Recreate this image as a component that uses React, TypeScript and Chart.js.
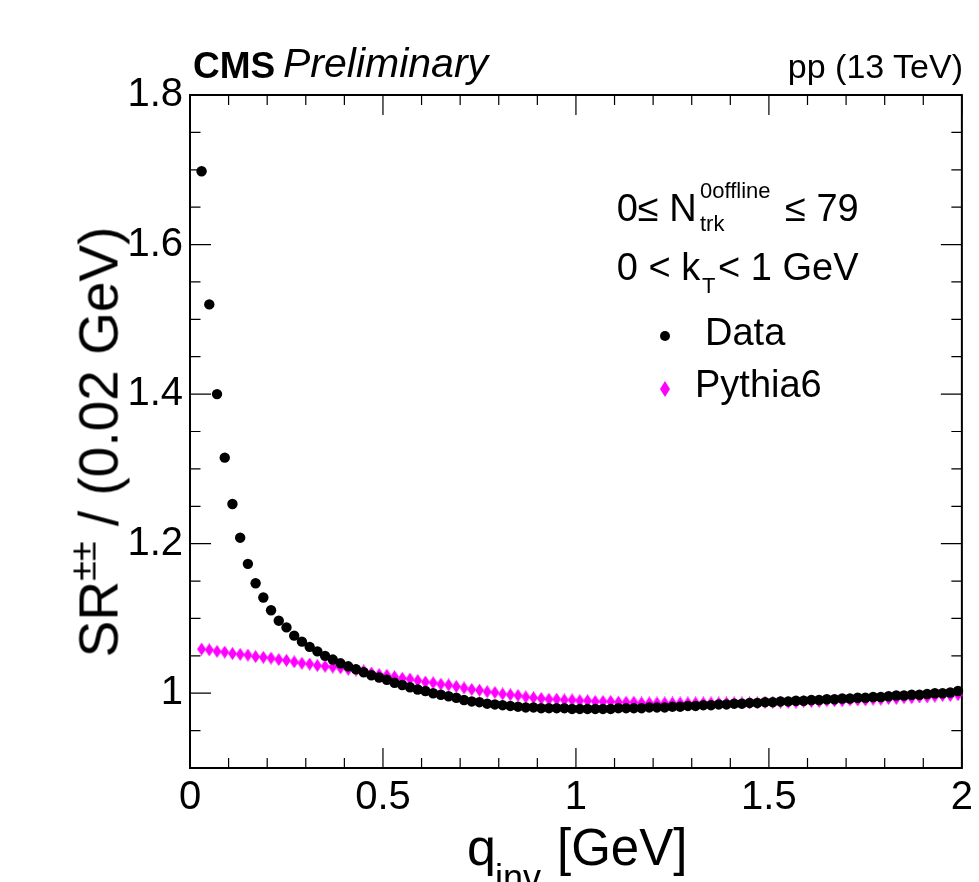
import React, { useEffect, useRef } from "react";
import { Chart, registerables } from "chart.js";

Chart.register(...registerables);

const qBins = [0.03,0.05,0.07,0.09,0.11,0.13,0.15,0.17,0.19,0.21,0.23,0.25,0.27,0.29,0.31,0.33,0.35,0.37,0.39,0.41,0.43,0.45,0.47,0.49,0.51,0.53,0.55,0.57,0.59,0.61,0.63,0.65,0.67,0.69,0.71,0.73,0.75,0.77,0.79,0.81,0.83,0.85,0.87,0.89,0.91,0.93,0.95,0.97,0.99,1.01,1.03,1.05,1.07,1.09,1.11,1.13,1.15,1.17,1.19,1.21,1.23,1.25,1.27,1.29,1.31,1.33,1.35,1.37,1.39,1.41,1.43,1.45,1.47,1.49,1.51,1.53,1.55,1.57,1.59,1.61,1.63,1.65,1.67,1.69,1.71,1.73,1.75,1.77,1.79,1.81,1.83,1.85,1.87,1.89,1.91,1.93,1.95,1.97,1.99];

const dataSR = [
  1.698,1.520,1.400,1.315,1.253,1.208,1.173,1.147,1.128,1.111,
  1.097,1.088,1.077,1.069,1.062,1.056,1.050,1.045,1.040,1.036,
  1.032,1.028,1.024,1.021,1.018,1.014,1.011,1.008,1.005,1.003,
  1.000,0.998,0.996,0.994,0.991,0.989,0.988,0.986,0.985,0.984,
  0.983,0.982,0.981,0.981,0.980,0.980,0.980,0.980,0.979,0.979,
  0.979,0.979,0.979,0.979,0.980,0.980,0.980,0.980,0.981,0.981,
  0.981,0.982,0.982,0.983,0.983,0.984,0.984,0.985,0.985,0.986,
  0.986,0.987,0.987,0.988,0.988,0.989,0.989,0.990,0.990,0.991,
  0.991,0.992,0.992,0.993,0.993,0.994,0.994,0.995,0.995,0.996,
  0.997,0.997,0.998,0.998,0.999,1.000,1.000,1.001,1.003
];

const pythiaSR = [
  1.059,1.058,1.056,1.055,1.053,1.052,1.051,1.049,1.048,1.047,
  1.045,1.044,1.042,1.040,1.039,1.037,1.036,1.035,1.034,1.032,
  1.031,1.030,1.027,1.025,1.024,1.022,1.020,1.019,1.017,1.015,
  1.014,1.012,1.011,1.009,1.007,1.005,1.004,1.002,1.001,0.999,
  0.998,0.997,0.995,0.994,0.993,0.992,0.992,0.991,0.991,0.990,
  0.990,0.989,0.989,0.989,0.988,0.988,0.988,0.987,0.987,0.987,
  0.987,0.987,0.987,0.987,0.987,0.987,0.987,0.987,0.987,0.987,
  0.987,0.987,0.987,0.988,0.988,0.988,0.988,0.988,0.989,0.989,
  0.989,0.990,0.990,0.990,0.991,0.991,0.991,0.992,0.992,0.993,
  0.993,0.994,0.994,0.995,0.995,0.996,0.997,0.997,0.998
];

const xMajorTicks = [0, 0.5, 1, 1.5, 2];
const xTickLabels = ["0", "0.5", "1", "1.5", "2"];
const xMinorTicks = [0.1,0.2,0.3,0.4,0.6,0.7,0.8,0.9,1.1,1.2,1.3,1.4,1.6,1.7,1.8,1.9];
const yMajorTicks = [1, 1.2, 1.4, 1.6, 1.8];
const yTickLabels = ["1", "1.2", "1.4", "1.6", "1.8"];
const yMinorTicks = [0.9,0.95,1.05,1.1,1.15,1.25,1.3,1.35,1.45,1.5,1.55,1.65,1.7,1.75];

const FONT = "'Liberation Sans', Arial, Helvetica, sans-serif";
const MAGENTA = "#ff00ff";

function T(props: { x?: number; right?: number; y: number; size: number; children: any; style?: any }) {
  const { x, right, y, size, children, style } = props;
  const s: any = {
    position: "absolute",
    top: y - 0.8465 * size,
    fontSize: size,
    lineHeight: `${size}px`,
    whiteSpace: "nowrap",
    fontFamily: FONT,
    color: "#000",
    ...style,
  };
  if (right !== undefined) s.right = right; else s.left = x;
  return <div style={s}>{children}</div>;
}

export default function App() {
  const ref = useRef<HTMLCanvasElement>(null);

  useEffect(() => {
    const canvas = ref.current!;
    const dia = document.createElement("canvas");
    dia.width = 9;
    dia.height = 13;
    const dctx = dia.getContext("2d")!;
    dctx.fillStyle = MAGENTA;
    dctx.beginPath();
    dctx.moveTo(4.5, 0);
    dctx.lineTo(9, 6.5);
    dctx.lineTo(4.5, 13);
    dctx.lineTo(0, 6.5);
    dctx.closePath();
    dctx.fill();

    const framePlugin = {
      id: "rootFrame",
      beforeDatasetsDraw(chart: any) {
        const { ctx, chartArea: a } = chart;
        const xs = chart.scales.x;
        const ys = chart.scales.y;
        ctx.save();
        ctx.strokeStyle = "#000";
        ctx.lineWidth = 1.2;
        ctx.beginPath();
        const xt = (v: number, len: number) => {
          const px = xs.getPixelForValue(v);
          ctx.moveTo(px, a.bottom);
          ctx.lineTo(px, a.bottom - len);
          ctx.moveTo(px, a.top);
          ctx.lineTo(px, a.top + len);
        };
        const yt = (v: number, len: number) => {
          const py = ys.getPixelForValue(v);
          ctx.moveTo(a.left, py);
          ctx.lineTo(a.left + len, py);
          ctx.moveTo(a.right, py);
          ctx.lineTo(a.right - len, py);
        };
        xMajorTicks.forEach((v) => xt(v, 20));
        xMinorTicks.forEach((v) => xt(v, 10));
        yMajorTicks.forEach((v) => yt(v, 21));
        yMinorTicks.forEach((v) => yt(v, 10.5));
        ctx.stroke();
        ctx.lineWidth = 2;
        ctx.strokeRect(a.left, a.top, a.right - a.left, a.bottom - a.top);
        ctx.restore();
      },
    };

    const chart = new Chart(canvas, {
      type: "scatter",
      data: {
        datasets: [
          {
            label: "Data",
            data: qBins.map((q, i) => ({ x: q, y: dataSR[i] })),
            pointStyle: "circle",
            pointRadius: 5.2,
            backgroundColor: "#000",
            borderWidth: 0,
            showLine: false,
            order: 0,
            clip: false,
          },
          {
            label: "Pythia6",
            data: qBins.map((q, i) => ({ x: q, y: pythiaSR[i] })),
            pointStyle: dia,
            pointRadius: 5,
            backgroundColor: MAGENTA,
            borderWidth: 0,
            showLine: false,
            order: 1,
            clip: false,
          },
        ],
      },
      options: {
        responsive: false,
        animation: false,
        devicePixelRatio: 1,
        layout: { padding: { top: 95, right: 13, left: 0, bottom: 0 } },
        plugins: { legend: { display: false }, tooltip: { enabled: false } },
        scales: {
          x: {
            type: "linear",
            min: 0,
            max: 2,
            grid: { display: false, drawTicks: false },
            border: { display: false },
            afterFit: (s: any) => { s.height = 114; },
            afterBuildTicks: (s: any) => { s.ticks = xMajorTicks.map((v) => ({ value: v })); },
            ticks: {
              autoSkip: false,
              maxRotation: 0,
              padding: 6,
              color: "#000",
              font: { family: FONT, size: 40 },
              callback: (v: any) => { const i = xMajorTicks.indexOf(Number(v)); return i >= 0 ? xTickLabels[i] : ""; },
            },
          },
          y: {
            type: "linear",
            min: 0.9,
            max: 1.8,
            grid: { display: false, drawTicks: false },
            border: { display: false },
            afterFit: (s: any) => { s.width = 190; },
            afterBuildTicks: (s: any) => { s.ticks = yMajorTicks.map((v) => ({ value: v })); },
            ticks: {
              autoSkip: false,
              padding: 7,
              color: "#000",
              font: { family: FONT, size: 40 },
              callback: (v: any) => { const i = yMajorTicks.findIndex((m) => Math.abs(m - Number(v)) < 1e-6); return i >= 0 ? yTickLabels[i] : ""; },
            },
          },
        },
      },
      plugins: [framePlugin],
    } as any);
    return () => chart.destroy();
  }, []);

  return (
    <div style={{ position: "absolute", left: 0, top: 0, width: 979, height: 882, overflow: "hidden", background: "#fff" }}>
      <canvas ref={ref} width={979} height={882} style={{ position: "absolute", left: 0, top: 0, width: 979, height: 882 }} />

      <T x={193} y={78} size={37} style={{ fontWeight: "bold" }}>CMS</T>
      <T x={283} y={78} size={41} style={{ fontStyle: "italic" }}>Preliminary</T>
      <T right={16} y={78} size={34}>pp (13 TeV)</T>

      <T x={616.7} y={220.7} size={38}>0≤ N</T>
      <T x={700} y={198.3} size={22}>0offline</T>
      <T x={700} y={231.7} size={22}>trk</T>
      <T x={785} y={220.7} size={38}>≤ 79</T>

      <T x={616.7} y={280} size={38}>0 &lt; k</T>
      <T x={702} y={293.3} size={22}>T</T>
      <T x={718} y={280} size={38}>&lt; 1 GeV</T>

      <svg style={{ position: "absolute", left: 659, top: 330 }} width={12} height={12}>
        <circle cx={6} cy={6} r={5} fill="#000" />
      </svg>
      <T x={705} y={345} size={38}>Data</T>
      <svg style={{ position: "absolute", left: 660, top: 381 }} width={10} height={16}>
        <polygon points="5,0 10,8 5,16 0,8" fill={MAGENTA} />
      </svg>
      <T x={695} y={396.7} size={38}>Pythia6</T>

      <T x={467} y={865} size={52}>q</T>
      <T x={495} y={890} size={36}>inv</T>
      <T x={557} y={865} size={51}>[GeV]</T>

      <div
        style={{
          position: "absolute",
          left: 102,
          top: 442,
          transform: "translate(-50%, -50%) rotate(-90deg)",
          fontFamily: FONT,
          fontSize: 55,
          lineHeight: "55px",
          whiteSpace: "nowrap",
          color: "#000",
        }}
      >
        SR<span style={{ fontSize: 36, position: "relative", top: -22 }}>±±</span> / (0.02 GeV)
      </div>
    </div>
  );
}
